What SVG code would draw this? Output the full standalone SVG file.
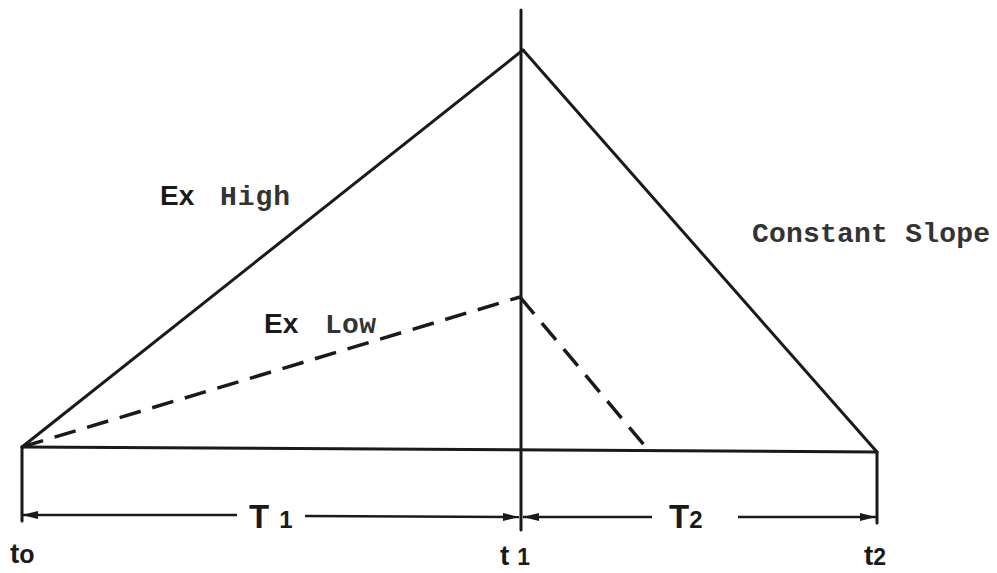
<svg xmlns="http://www.w3.org/2000/svg" width="997" height="573" viewBox="0 0 997 573">
<style>
.ln{stroke:#1a1a1a;stroke-width:3;fill:none;stroke-linecap:round}
.dm{stroke:#1a1a1a;stroke-width:2.5;fill:none}
.ds{stroke:#1a1a1a;stroke-width:3.5;fill:none;stroke-dasharray:22 12}
.mono{font-family:"Liberation Mono","DejaVu Sans Mono",monospace;font-weight:bold;fill:#333}
.sans{font-family:"Liberation Sans","DejaVu Sans",sans-serif;font-weight:bold;fill:#1a1a1a}
</style>
<defs>
<marker id="ah" viewBox="0 0 16 8" refX="16" refY="4" markerWidth="16" markerHeight="8" markerUnits="userSpaceOnUse" orient="auto">
<path d="M0,0 L16,4 L0,8 Z" fill="#1a1a1a"/>
</marker>
</defs>
<rect width="997" height="573" fill="#fff"/>
<g id="connectors">
<line class="ln" x1="521" y1="10" x2="521" y2="530"/>
<line class="ln" x1="22" y1="447" x2="523" y2="50"/>
<line class="ln" x1="523" y1="50" x2="877" y2="452"/>
<line class="ln" x1="22" y1="447" x2="877" y2="452"/>
<line class="ln" x1="22" y1="447" x2="22" y2="521"/>
<line class="ln" x1="877" y1="452" x2="877" y2="523"/>
<path class="ds" d="M22,447 L520,297"/>
<path class="ds" d="M520,297 L650,452"/>
<line class="dm" x1="237" y1="515" x2="22" y2="515" marker-end="url(#ah)"/>
<line class="dm" x1="305" y1="516" x2="519" y2="517" marker-end="url(#ah)"/>
<line class="dm" x1="652" y1="517" x2="523" y2="517" marker-end="url(#ah)"/>
<line class="dm" x1="738" y1="517" x2="876" y2="517" marker-end="url(#ah)"/>
</g>
<g id="label-exhigh">
<text class="sans" x="160" y="205" font-size="28">Ex</text>
<text class="mono" x="220" y="205" font-size="28" textLength="70">High</text>
</g>
<g id="label-exlow">
<text class="sans" x="264" y="333" font-size="28">Ex</text>
<text class="mono" x="325" y="333" font-size="28" textLength="51">Low</text>
</g>
<g id="label-constant">
<text class="mono" x="752" y="242" font-size="28" textLength="238">Constant Slope</text>
</g>
<g id="label-T1">
<text class="sans" x="249" y="528" font-size="33">T<tspan font-size="24" dx="10">1</tspan></text>
</g>
<g id="label-T2">
<text class="sans" x="669" y="528" font-size="33">T<tspan font-size="24">2</tspan></text>
</g>
<g id="label-t0">
<text class="sans" x="10" y="563" font-size="28">t<tspan font-size="25">o</tspan></text>
</g>
<g id="label-t1">
<text class="sans" x="500" y="565" font-size="28">t<tspan font-size="23" dx="8">1</tspan></text>
</g>
<g id="label-t2">
<text class="sans" x="864" y="565" font-size="28">t<tspan font-size="23">2</tspan></text>
</g>
</svg>
